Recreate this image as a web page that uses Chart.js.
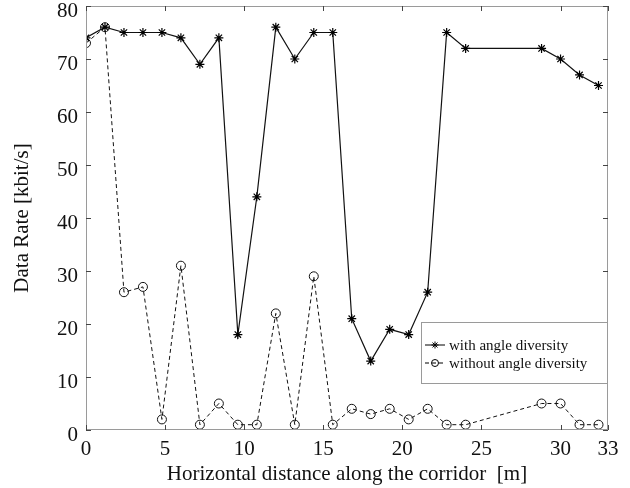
<!DOCTYPE html>
<html>
<head>
<meta charset="utf-8">
<script src="https://cdn.jsdelivr.net/npm/chart.js@4/dist/chart.umd.min.js"></script>
<style>
  html, body { margin: 0; padding: 0; background: #fff; }
  #wrap { width: 630px; height: 488px; }
</style>
</head>
<body>
<div id="wrap"><canvas id="rateChart"></canvas></div>
<script>
// distance along the corridor [m]
const distance = [0, 1.2, 2.4, 3.6, 4.8, 6.0, 7.2, 8.4, 9.6, 10.8, 12.0, 13.2, 14.4, 15.6,
                  16.8, 18.0, 19.2, 20.4, 21.6, 22.8, 24.0, 28.8, 30.0, 31.2, 32.4];
// data rate [kbit/s]
const withDiversity = [74, 76, 75, 75, 75, 74, 69, 74, 18, 44, 76, 70, 75, 75,
                       21, 13, 19, 18, 26, 75, 72, 72, 70, 67, 65];
const withoutDiversity = [73, 76, 26, 27, 2, 31, 1, 5, 1, 1, 22, 1, 29, 1,
                          4, 3, 4, 2, 4, 1, 1, 5, 5, 1, 1];
const xTicks = [0, 5, 10, 15, 20, 25, 30, 33];
const yTicks = [0, 10, 20, 30, 40, 50, 60, 70, 80];

const FONT = "'Liberation Serif', 'Times New Roman', serif";

function toPoints(vals) {
    return vals.map((v, i) => ({ x: distance[i], y: v }));
}

// box + inward tick marks on all four sides, matlab style
const boxPlugin = {
    id: 'boxTicks',
    afterDraw(chart) {
        const { ctx, chartArea: a, scales: { x, y } } = chart;
        ctx.save();
        ctx.strokeStyle = '#9a9a9a';
        ctx.lineWidth = 1;
        ctx.strokeRect(a.left + 0.5, a.top + 0.5, a.right - a.left - 1, a.bottom - a.top - 1);
        ctx.strokeStyle = '#444';
        ctx.beginPath();
        xTicks.forEach(t => {
            const px = Math.round(x.getPixelForValue(t)) + 0.5;
            ctx.moveTo(px, a.bottom); ctx.lineTo(px, a.bottom - 5);
            ctx.moveTo(px, a.top); ctx.lineTo(px, a.top + 5);
        });
        yTicks.forEach(t => {
            const py = Math.round(y.getPixelForValue(t)) + 0.5;
            ctx.moveTo(a.left, py); ctx.lineTo(a.left + 5, py);
            ctx.moveTo(a.right, py); ctx.lineTo(a.right - 5, py);
        });
        ctx.stroke();
        ctx.restore();
    }
};

// legend box sitting in the lower right of the plot
const legendPlugin = {
    id: 'boxLegend',
    afterDraw(chart) {
        const { ctx, chartArea: a } = chart;
        const w = 187, h = 62;
        const left = a.right - w, top = a.bottom - 108;
        ctx.save();
        ctx.fillStyle = '#fff';
        ctx.fillRect(left, top, w, h);
        ctx.strokeStyle = '#9a9a9a';
        ctx.lineWidth = 1;
        ctx.strokeRect(left + 0.5, top + 0.5, w - 1, h - 1);
        ctx.font = '15px ' + FONT;
        ctx.textBaseline = 'middle';
        chart.data.datasets.forEach((ds, i) => {
            const cy = top + 23 + i * 18;
            ctx.strokeStyle = '#000';
            ctx.lineWidth = 1;
            ctx.setLineDash(ds.borderDash || []);
            ctx.beginPath();
            ctx.moveTo(left + 4, cy); ctx.lineTo(left + 24, cy);
            ctx.stroke();
            ctx.setLineDash([]);
            ctx.fillStyle = 'rgba(255,255,255,0)';
            Chart.helpers.drawPoint(ctx, {
                pointStyle: ds.pointStyle, radius: 3.5, borderWidth: 1
            }, left + 14, cy);
            ctx.fillStyle = '#111';
            ctx.fillText(ds.label, left + 28, cy + 1);
        });
        ctx.restore();
    }
};

new Chart(document.getElementById('rateChart'), {
    type: 'line',
    data: {
        datasets: [
            {
                label: 'with angle diversity',
                data: toPoints(withDiversity),
                borderColor: '#111',
                borderWidth: 1.2,
                pointStyle: 'star',
                pointRadius: 4.5,
                pointBorderColor: '#000',
                pointBorderWidth: 1.2,
                pointBackgroundColor: '#000',
                tension: 0
            },
            {
                label: 'without angle diversity',
                data: toPoints(withoutDiversity),
                borderColor: '#111',
                borderWidth: 1,
                borderDash: [4, 3],
                pointStyle: 'circle',
                pointRadius: 4.5,
                pointBorderColor: '#111',
                pointBorderWidth: 1,
                pointBackgroundColor: 'rgba(255,255,255,0)',
                tension: 0
            }
        ]
    },
    options: {
        responsive: true,
        maintainAspectRatio: false,
        animation: false,
        layout: { padding: { top: 6, right: 22, left: 0, bottom: 0 } },
        plugins: { legend: { display: false }, tooltip: { enabled: false } },
        scales: {
            x: {
                type: 'linear',
                min: 0, max: 33,
                afterBuildTicks: s => { s.ticks = xTicks.map(v => ({ value: v })); },
                afterFit: s => { s.height = 58; },
                grid: { display: false, drawTicks: false },
                border: { display: false },
                ticks: {
                    color: '#111', padding: 7, maxRotation: 0, autoSkip: false,
                    font: { family: FONT, size: 21 }
                },
                title: {
                    display: true, text: 'Horizontal distance along the corridor  [m]',
                    color: '#111', padding: { top: 0, bottom: 1 },
                    font: { family: FONT, size: 21 }
                }
            },
            y: {
                min: 0, max: 80,
                afterBuildTicks: s => { s.ticks = yTicks.map(v => ({ value: v })); },
                afterFit: s => { s.width = 86; s.paddingTop = 0; },
                grid: { display: false, drawTicks: false },
                border: { display: false },
                ticks: {
                    color: '#111', padding: 8, labelOffset: 5,
                    font: { family: FONT, size: 21 }
                },
                title: {
                    display: true, text: 'Data Rate [kbit/s]',
                    color: '#111', padding: { top: 10, bottom: 4 },
                    font: { family: FONT, size: 21 }
                }
            }
        }
    },
    plugins: [boxPlugin, legendPlugin]
});
</script>
</body>
</html>
